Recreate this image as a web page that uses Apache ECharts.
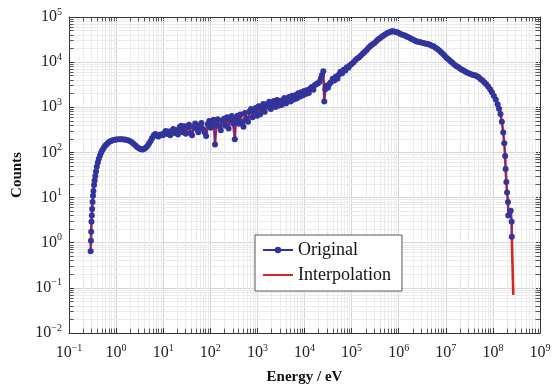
<!DOCTYPE html>
<html>
<head>
<meta charset="utf-8">
<script src="https://cdn.jsdelivr.net/npm/echarts@6/dist/echarts.min.js"></script>
<style>
  html, body { margin: 0; padding: 0; background: #fff; }
  #chart-container { width: 554px; height: 390px; }
</style>
</head>
<body>
<div id="chart-container"></div>
<script>
// energy (eV) of each original point
const energy = [
  0.288, 0.292, 0.296, 0.300, 0.305, 0.310, 0.316, 0.323, 0.330, 0.340,
  0.350, 0.362, 0.375, 0.390, 0.410, 0.430, 0.455, 0.480, 0.510, 0.545,
  0.580, 0.620, 0.670, 0.720, 0.780, 0.850, 0.930, 1.02, 1.12, 1.23,
  1.35, 1.48, 1.62, 1.78, 1.95, 2.14, 2.35, 2.58, 2.83, 3.10,
  3.40, 3.70, 4.00, 4.30, 4.65, 5.00, 5.40, 5.80, 6.30, 6.80,
  7.30, 7.90, 8.50, 9.10, 9.80, 10.5, 11.3, 12.2, 13.1, 14.1,
  15.2, 16.4, 17.7, 19.1, 20.6, 22.3, 24.0, 26.0, 28.0, 30.2,
  32.6, 35.2, 38.0, 41.0, 44.3, 47.8, 51.6, 55.7, 60.1, 64.9,
  70.0, 75.6, 81.6, 88.0, 95.0, 102, 110, 118, 126, 134,
  144, 155, 167, 180, 195, 210, 227, 245, 264, 285,
  307, 331, 350, 377, 405, 437, 470, 506, 545, 587,
  632, 681, 733, 790, 851, 917, 988, 1064, 1146, 1234,
  1330, 1432, 1543, 1662, 1790, 1928, 2077, 2237, 2410, 2596,
  2796, 3012, 3244, 3494, 3764, 4054, 4367, 4704, 5067, 5458,
  5879, 6333, 6822, 7348, 7915, 8526, 9183, 9892, 10655, 11477,
  12363, 13317, 14344, 15451, 16643, 17927, 19311, 20801, 22405, 23500,
  25100, 26300, 27600, 29300, 31600, 33800, 36200, 39800, 43000, 46500,
  50100, 54000, 58100, 63100, 68000, 73500, 79400, 85500, 92200, 1.0e5,
  1.10e5, 1.20e5, 1.32e5, 1.45e5, 1.58e5, 1.74e5, 1.91e5, 2.09e5, 2.29e5, 2.51e5,
  2.75e5, 3.02e5, 3.31e5, 3.63e5, 3.98e5, 4.37e5, 4.79e5, 5.25e5, 5.75e5, 6.31e5,
  6.92e5, 7.41e5, 7.94e5, 8.70e5, 9.55e5, 1.05e6, 1.15e6, 1.26e6, 1.38e6, 1.51e6,
  1.66e6, 1.82e6, 2.00e6, 2.19e6, 2.40e6, 2.63e6, 2.88e6, 3.16e6, 3.47e6, 3.80e6,
  4.17e6, 4.57e6, 5.01e6, 5.50e6, 6.03e6, 6.61e6, 7.24e6, 7.94e6, 8.71e6, 9.55e6,
  1.05e7, 1.15e7, 1.26e7, 1.38e7, 1.51e7, 1.66e7, 1.82e7, 2.00e7, 2.19e7, 2.40e7,
  2.63e7, 2.88e7, 3.16e7, 3.47e7, 3.80e7, 4.17e7, 4.57e7, 5.01e7, 5.50e7, 6.03e7,
  6.61e7, 7.24e7, 7.94e7, 8.71e7, 9.55e7, 1.05e8, 1.15e8, 1.26e8, 1.35e8, 1.45e8,
  1.55e8, 1.66e8, 1.74e8, 1.82e8, 1.86e8, 1.93e8, 2.00e8, 2.09e8, 2.12e8, 2.39e8,
  2.50e8, 2.52e8
];
// counts of each original point
const counts = [
  0.65, 1.1, 1.75, 2.9, 4.0, 5.6, 8.0, 11, 14, 19,
  24, 30, 38, 48, 60, 72, 85, 98, 112, 126,
  138, 150, 162, 172, 180, 186, 190, 193, 195, 196,
  196, 194, 190, 185, 178, 168, 155, 142, 130, 122,
  117, 116, 120, 128, 140, 158, 180, 205, 240, 255,
  235, 225, 245, 250, 240, 270, 300, 255, 290, 240,
  300, 330, 270, 310, 250, 360, 390, 280, 380, 260,
  360, 410, 270, 240, 360, 440, 330, 280, 400, 450,
  330, 280, 230, 420, 500, 350, 460, 530, 150, 400,
  540, 380, 310, 500, 560, 390, 600, 340, 550, 640,
  440, 195, 560, 650, 430, 690, 470, 370, 750, 560,
  480, 820, 920, 600, 830, 960, 650, 1050, 700, 930,
  1180, 800, 1030, 1220, 1330, 920, 1200, 1380, 1020, 1450,
  1080, 1380, 1120, 1450, 1600, 1220, 1530, 1700, 1350, 1800,
  1480, 1850, 1570, 2050, 1720, 2150, 1820, 2300, 1980, 2400,
  2080, 2600, 2800, 2450, 3100, 3300, 3400, 3700, 4470, 5200,
  6300, 1350, 2500, 3000, 2700, 3300, 3600, 4300, 3900, 4790,
  4300, 5300, 6100, 5700, 6800, 6500, 7700, 7500, 8500, 9100,
  10000, 11000, 12000, 12900, 14100, 15500, 17000, 18600, 20900, 22900,
  24500, 26300, 28800, 31600, 33900, 36300, 38900, 41700, 44200, 46200,
  47900, 48400, 47900, 46800, 45200, 43200, 41200, 39800, 38500, 36700,
  35100, 33100, 31600, 30200, 28800, 28200, 27500, 26900, 26300, 25700,
  25100, 24300, 23200, 22400, 20900, 19500, 18000, 16600, 15100, 13600,
  12300, 11400, 10500, 9700, 8900, 8200, 7800, 7200, 6800, 6500,
  6100, 5800, 5600, 5400, 5200, 5100, 4900, 4600, 4200, 3900,
  3550, 3240, 2880, 2510, 2140, 1780, 1480, 1170, 930, 710,
  480, 275, 160, 83, 43, 22, 13, 8, 4, 5.1,
  2.9, 1.35
];
// the interpolated curve runs on past the last original point
const interpTailEnergy = [2.71e8];
const interpTailCounts = [0.07];

// decade exponents shown on the axes
const xExponents = [-1, 0, 1, 2, 3, 4, 5, 6, 7, 8, 9];
const yExponents = [-2, -1, 0, 1, 2, 3, 4, 5];

const xMin = Math.pow(10, xExponents[0]);
const xMax = Math.pow(10, xExponents[xExponents.length - 1]);
const yMin = Math.pow(10, yExponents[0]);
const yMax = Math.pow(10, yExponents[yExponents.length - 1]);

const original = energy.map((e, i) => [e, counts[i]]);
const interpolation = original.concat(interpTailEnergy.map((e, i) => [e, interpTailCounts[i]]));

// minor grid positions 2..9 x 10^k
const minorX = [];
const minorY = [];
for (let k = xExponents[0]; k < xExponents[xExponents.length - 1]; k++) {
  for (let m = 2; m <= 9; m++) minorX.push(m * Math.pow(10, k));
}
for (let k = yExponents[0]; k < yExponents[yExponents.length - 1]; k++) {
  for (let m = 2; m <= 9; m++) minorY.push(m * Math.pow(10, k));
}

const serif = "'Liberation Serif', 'DejaVu Serif', serif";

function powLabel(v) {
  const p = Math.round(Math.log10(v));
  return '{b|10}{s|' + String(p).replace('-', '\u2212') + '}';
}
const labelRich = {
  b: { fontFamily: serif, fontSize: 16, color: '#222', lineHeight: 20 },
  s: { fontFamily: serif, fontSize: 10, color: '#222', lineHeight: 10, verticalAlign: 'top' }
};

const tickLen = 1.25;
const minorTicks = [];
minorX.forEach((v) => {
  minorTicks.push([{ coord: [v, yMin] }, { coord: [v, yMin * tickLen] }]);
  minorTicks.push([{ coord: [v, yMax] }, { coord: [v, yMax / tickLen] }]);
});
minorY.forEach((v) => {
  minorTicks.push([{ coord: [xMin, v] }, { coord: [xMin * tickLen, v] }]);
  minorTicks.push([{ coord: [xMax, v] }, { coord: [xMax / tickLen, v] }]);
});

const chart = echarts.init(document.getElementById('chart-container'));

const frameAxis = {
  axisLine: { lineStyle: { color: '#333', width: 1 } },
  axisTick: { inside: true, length: 5, lineStyle: { color: '#333' } }
};

const option = {
  backgroundColor: '#fff',
  animation: false,
  grid: { left: 69, right: 14, top: 17, bottom: 55 },
  legend: {
    data: [
      { name: 'Original', lineStyle: { width: 2 } },
      { name: 'Interpolation', itemStyle: { opacity: 0 }, lineStyle: { width: 2 } }
    ],
    orient: 'vertical',
    left: 255,
    top: 235,
    z: 10,
    backgroundColor: '#fff',
    borderColor: '#555',
    borderWidth: 1,
    borderRadius: 0,
    padding: [6, 11, 7, 7],
    itemGap: 7,
    itemWidth: 30,
    itemHeight: 8,
    textStyle: { fontFamily: serif, fontSize: 18, color: '#111' }
  },
  xAxis: [
    Object.assign({
      type: 'log',
      logBase: 10,
      min: xMin,
      max: xMax,
      interval: 1,
      name: 'Energy / eV',
      nameLocation: 'middle',
      nameGap: 37,
      nameTextStyle: { fontFamily: serif, fontSize: 15, fontWeight: 'bold', color: '#111' },
      axisLabel: { formatter: powLabel, rich: labelRich, margin: 10 },
      splitLine: { show: true, lineStyle: { color: '#d4d4d4', width: 1 } }
    }, frameAxis),
    Object.assign({
      type: 'log',
      logBase: 10,
      position: 'top',
      min: xMin,
      max: xMax,
      interval: 1,
      axisLabel: { show: false },
      splitLine: { show: false }
    }, frameAxis)
  ],
  yAxis: [
    Object.assign({
      type: 'log',
      logBase: 10,
      min: yMin,
      max: yMax,
      interval: 1,
      name: 'Counts',
      nameLocation: 'middle',
      nameGap: 44,
      nameTextStyle: { fontFamily: serif, fontSize: 15, fontWeight: 'bold', color: '#111' },
      axisLabel: { formatter: powLabel, rich: labelRich, margin: 7 },
      splitLine: { show: true, lineStyle: { color: '#d4d4d4', width: 1 } }
    }, frameAxis),
    Object.assign({
      type: 'log',
      logBase: 10,
      position: 'right',
      min: yMin,
      max: yMax,
      interval: 1,
      axisLabel: { show: false },
      splitLine: { show: false }
    }, frameAxis)
  ],
  series: [
    {
      // minor grid lines
      name: 'grid',
      type: 'line',
      data: [[xMin, yMin]],
      symbol: 'none',
      lineStyle: { opacity: 0 },
      silent: true,
      z: 1,
      markLine: {
        z: 1,
        silent: true,
        animation: false,
        symbol: ['none', 'none'],
        label: { show: false },
        lineStyle: { color: '#ebebeb', width: 1, type: 'solid' },
        data: minorX.map((v) => ({ xAxis: v })).concat(minorY.map((v) => ({ yAxis: v })))
      }
    },
    {
      // minor ticks on the frame
      name: 'ticks',
      type: 'line',
      data: [[xMin, yMin]],
      symbol: 'none',
      lineStyle: { opacity: 0 },
      silent: true,
      z: 2,
      markLine: {
        z: 2,
        silent: true,
        animation: false,
        symbol: ['none', 'none'],
        label: { show: false },
        lineStyle: { color: '#555', width: 1, type: 'solid' },
        data: minorTicks
      }
    },
    {
      name: 'Interpolation',
      type: 'line',
      data: interpolation,
      symbol: 'none',
      color: '#d42626',
      lineStyle: { color: '#d42626', width: 2.6 },
      z: 3
    },
    {
      name: 'Original',
      type: 'line',
      data: original,
      symbol: 'circle',
      symbolSize: 6,
      color: '#2f2fa2',
      itemStyle: { color: '#33339c', borderWidth: 0 },
      lineStyle: { color: '#2f2fb0', width: 0.8 },
      z: 4
    }
  ]
};

chart.setOption(option);
</script>
</body>
</html>
